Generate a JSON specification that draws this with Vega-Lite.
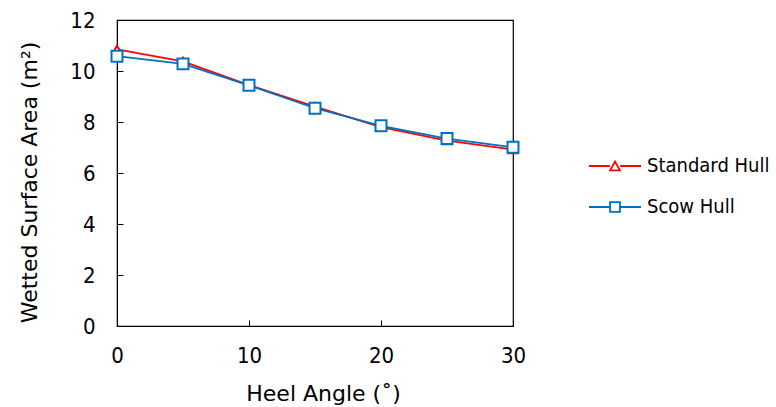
{
  "$schema": "https://vega.github.io/schema/vega-lite/v6.json",
  "width": 396,
  "height": 306,
  "autosize": {"type": "none"},
  "padding": {"left": 117, "top": 20, "right": 263, "bottom": 81},
  "background": "white",
  "config": {
    "font": "DejaVu Sans Condensed",
    "view": {"stroke": "black", "strokeWidth": 1.2},
    "axis": {
      "grid": false,
      "domainColor": "black",
      "tickColor": "black",
      "labelColor": "black",
      "titleColor": "black",
      "labelFontSize": 22,
      "titleFontSize": 22,
      "titleFontWeight": "normal",
      "labelFont": "DejaVu Sans Condensed",
      "titleFont": "DejaVu Sans"
    }
  },
  "data": {
    "values": [
      {"angle": 0, "area": 10.85, "hull": "Standard Hull"},
      {"angle": 5, "area": 10.38, "hull": "Standard Hull"},
      {"angle": 10, "area": 9.45, "hull": "Standard Hull"},
      {"angle": 15, "area": 8.6, "hull": "Standard Hull"},
      {"angle": 20, "area": 7.8, "hull": "Standard Hull"},
      {"angle": 25, "area": 7.27, "hull": "Standard Hull"},
      {"angle": 30, "area": 6.92, "hull": "Standard Hull"},
      {"angle": 0, "area": 10.58, "hull": "Scow Hull"},
      {"angle": 5, "area": 10.28, "hull": "Scow Hull"},
      {"angle": 10, "area": 9.44, "hull": "Scow Hull"},
      {"angle": 15, "area": 8.54, "hull": "Scow Hull"},
      {"angle": 20, "area": 7.85, "hull": "Scow Hull"},
      {"angle": 25, "area": 7.35, "hull": "Scow Hull"},
      {"angle": 30, "area": 7.01, "hull": "Scow Hull"}
    ]
  },
  "encoding": {
    "x": {
      "field": "angle",
      "type": "quantitative",
      "scale": {"domain": [0, 30], "nice": false},
      "axis": {
        "title": "Heel Angle (˚)",
        "values": [0, 10, 20, 30],
        "tickSize": -6,
        "labelPadding": 25,
        "titlePadding": 17,
        "titleX": 206,
        "labelFlush": false
      }
    },
    "y": {
      "field": "area",
      "type": "quantitative",
      "scale": {"domain": [0, 12], "nice": false},
      "axis": {
        "title": "Wetted Surface Area (m²)",
        "values": [0, 2, 4, 6, 8, 10, 12],
        "tickSize": -6,
        "labelPadding": 28,
        "titlePadding": 28,
        "titleY": 162
      }
    }
  },
  "layer": [
    {
      "mark": {"type": "line", "strokeWidth": 1.8},
      "encoding": {
        "color": {
          "field": "hull",
          "type": "nominal",
          "scale": {"domain": ["Standard Hull", "Scow Hull"], "range": ["#FF0000", "#0070C0"]},
          "legend": {
            "title": null,
            "orient": "none",
            "legendX": 471,
            "legendY": 119,
            "labelFontSize": 20,
            "labelFont": "DejaVu Sans Condensed",
            "labelColor": "black",
            "labelOffset": 5,
            "rowPadding": 4,
            "symbolSize": 2704,
            "symbolStrokeWidth": 1.8,
            "symbolType": "M-1,0L1,0",
            "encode": {
              "symbols": {
                "update": {
                  "shape": {"signal": "datum.value === 'Standard Hull' ? 'M-1,0L-0.2,0M0.2,0L1,0M-0.19,0.17L0,-0.17L0.19,0.17Z' : 'M-1,0L-0.19,0M0.19,0L1,0M-0.19,-0.19L0.19,-0.19L0.19,0.19L-0.19,0.19Z'"},
                  "fill": {"value": "white"},
                  "fillOpacity": {"value": 1}
                }
              }
            }
          }
        }
      }
    },
    {
      "transform": [{"filter": "datum.hull === 'Standard Hull'"}],
      "mark": {"type": "point", "shape": "triangle-up", "size": 70, "filled": true, "fill": "white", "stroke": "#FF0000", "strokeWidth": 2, "opacity": 1}
    },
    {
      "transform": [{"filter": "datum.hull === 'Scow Hull'"}],
      "mark": {"type": "point", "shape": "square", "size": 120, "filled": true, "fill": "white", "stroke": "#0070C0", "strokeWidth": 2, "opacity": 1}
    }
  ]
}
